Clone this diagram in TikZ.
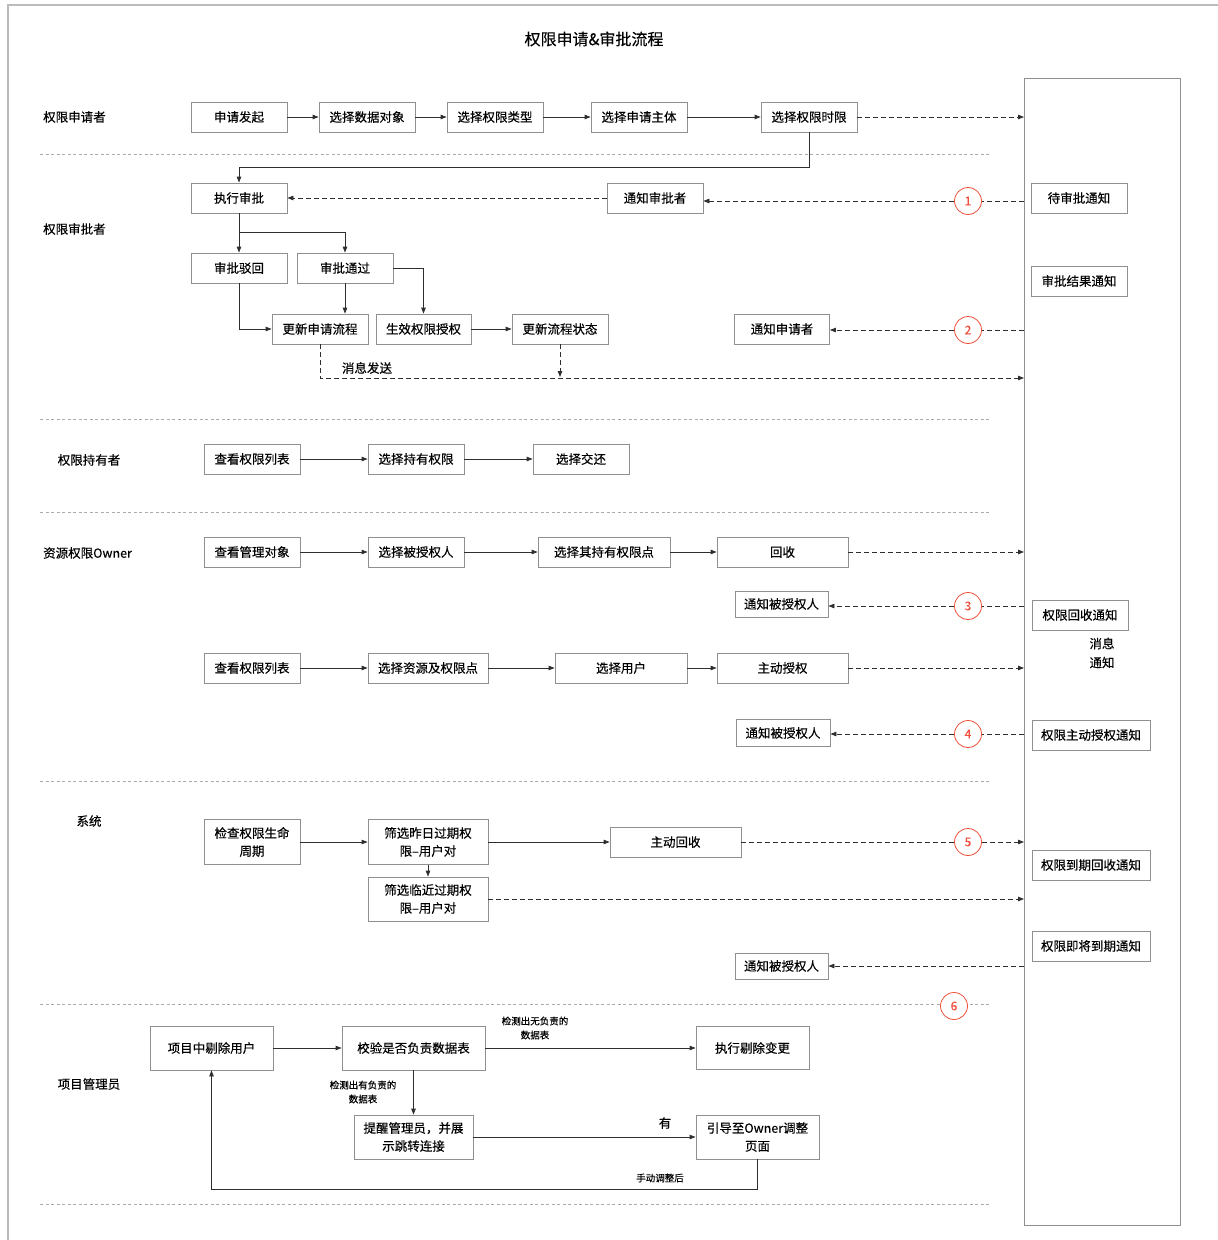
\documentclass[tikz,border=0pt]{standalone}
\usepackage{fontspec}
\setmainfont{Noto Sans CJK SC}[FakeBold=0.3]
\usetikzlibrary{arrows.meta,calc}
\definecolor{boxgray}{HTML}{8F8F8F}
\definecolor{linec}{HTML}{2E2E2E}
\definecolor{sepgray}{HTML}{ABABAB}
\definecolor{circred}{HTML}{F0503C}
\begin{document}
\begin{tikzpicture}[x=1pt,y=-1pt,
  box/.style={draw=boxgray,line width=0.8pt,fill=white,minimum width=96pt,minimum height=30pt,inner sep=1pt,align=center,font=\fontsize{12.5}{18}\selectfont},
  lane/.style={font=\fontsize{12.5}{15}\selectfont,inner sep=0pt},
  small/.style={font=\fontsize{9.5}{14}\selectfont,align=center,inner sep=0pt},
  arr/.style={draw=linec,line width=0.8pt,-{Triangle[length=6pt,width=4.5pt]}},
  ln/.style={draw=linec,line width=0.8pt},
  darr/.style={draw=linec,line width=0.8pt,dash pattern=on 5pt off 3pt,-{Triangle[length=6pt,width=4.5pt]}},
  dln/.style={draw=linec,line width=0.8pt,dash pattern=on 5pt off 3pt},
  sep/.style={draw=sepgray,line width=0.6pt,dash pattern=on 3pt off 2.5pt},
  circ/.style={circle,draw=circred,line width=0.8pt,fill=white,minimum size=27pt,inner sep=0pt,text=circred,font=\fontsize{12}{12}\selectfont}
]
\useasboundingbox (0,0) rectangle (1218,1240);
% outer frame
\draw[draw=sepgray!80,line width=1.2pt] (8,1240) -- (8,5) -- (1218,5);
% title
\node[font=\fontsize{16}{19}\selectfont] (title) at (594,39) {权限申请\&审批流程};
% right panel
\node[draw=boxgray,line width=0.8pt,minimum width=156pt,minimum height=1147pt,inner sep=0pt,anchor=north west] (panel) at (1024,78) {};
% separators
\foreach \yy in {154,419,512,781,1004,1204} \draw[sep] (40,\yy) -- (990,\yy);
% lane labels
\node[lane,anchor=west] (l1) at (43,117) {权限申请者};
\node[lane,anchor=west] (l2) at (43,229) {权限审批者};
\node[lane] (l3) at (89,460) {权限持有者};
\node[lane,anchor=west] (l4) at (43,553) {资源权限Owner};
\node[lane] (l5) at (89,821) {系统};
\node[lane] (l6) at (89,1084) {项目管理员};

% ---- row 1 applicant
\node[box] (a1) at (239,117) {申请发起};
\node[box] (a2) at (367,117) {选择数据对象};
\node[box] (a3) at (495,117) {选择权限类型};
\node[box] (a4) at (639,117) {选择申请主体};
\node[box] (a5) at (809,117) {选择权限时限};
\draw[arr] (a1) -- (a2);
\draw[arr] (a2) -- (a3);
\draw[arr] (a3) -- (a4);
\draw[arr] (a4) -- (a5);
\draw[darr] (a5.east) -- (a5.east -| panel.west);

% ---- approver
\node[box] (zxsp) at (239,198) {执行审批};
\node[box] (tzsp) at (655,198) {通知审批者};
\node[circ] (c1) at (968,201) {1};
\node[box] (dsp) at (1079,198) {待审批通知};
\node[box] (spjg) at (1079,281) {审批结果通知};
\coordinate (r1) at (809,167);
\draw[arr] (a5.south) -- (r1) -| (zxsp.north);
\draw[dln] (c1 -| panel.west) -- (c1.east);
\draw[darr] (c1.west) -- (tzsp.east |- c1);
\draw[darr] (tzsp.west) -- (zxsp.east);

\node[box] (bh) at (239,268) {审批驳回};
\node[box] (tg) at (345,268) {审批通过};
\node[box] (gxsq) at (320,329) {更新申请流程};
\node[box,minimum width=95pt] (sx) at (423.5,329) {生效权限授权};
\node[box] (gxzt) at (560,329) {更新流程状态};
\node[box,minimum width=95pt] (tzsq) at (782,329) {通知申请者};
\node[circ] (c2) at (968,330) {2};
\coordinate (br) at (239,232);
\draw[arr] (zxsp.south) -- (bh.north);
\draw[arr] (br) -| (tg.north);
\draw[arr] (bh.south) |- (gxsq.west);
\draw[arr] (tg.south) -- (tg.south |- gxsq.north);
\draw[arr] (tg.east) -| (sx.north);
\draw[arr] (sx) -- (gxzt);
\draw[dln] (c2 -| panel.west) -- (c2.east);
\draw[darr] (c2.west) -- (tzsq.east |- c2);
\coordinate (m1) at (320,378);
\draw[darr] (gxsq.south) -- (m1) -- (m1 -| panel.west);
\draw[darr] (gxzt.south) -- ($(gxzt.south |- m1)+(0,-1)$);
\node[lane] (msg1) at (367,368) {消息发送};

% ---- holder
\node[box] (h1) at (252,459) {查看权限列表};
\node[box] (h2) at (416,459) {选择持有权限};
\node[box] (h3) at (581,459) {选择交还};
\draw[arr] (h1) -- (h2);
\draw[arr] (h2) -- (h3);

% ---- owner
\node[box] (o1) at (252,552) {查看管理对象};
\node[box] (o2) at (416,552) {选择被授权人};
\node[box,minimum width=132pt] (o3) at (604,552) {选择其持有权限点};
\node[box,minimum width=131pt] (o4) at (782.5,552) {回收};
\node[box,minimum width=93pt,minimum height=26pt] (o5) at (781.5,604) {通知被授权人};
\node[circ] (c3) at (968,606) {3};
\node[box] (o6) at (1080,615) {权限回收通知};
\node[lane,align=center,font=\fontsize{12.5}{19}\selectfont] (msg2) at (1102,653) {消息\\通知};
\draw[arr] (o1) -- (o2);
\draw[arr] (o2) -- (o3);
\draw[arr] (o3) -- (o4);
\draw[darr] (o4.east) -- (o4.east -| panel.west);
\draw[dln] (c3 -| panel.west) -- (c3.east);
\draw[darr] (c3.west) -- (o5.east |- c3);

\node[box] (o7) at (252,668) {查看权限列表};
\node[box,minimum width=120pt] (o8) at (428,668) {选择资源及权限点};
\node[box,minimum width=132pt] (o9) at (621,668) {选择用户};
\node[box,minimum width=131pt] (o10) at (782.5,668) {主动授权};
\node[box,minimum width=94pt,minimum height=27pt] (o11) at (783,733) {通知被授权人};
\node[circ] (c4) at (968,734) {4};
\node[box,minimum width=118pt] (o12) at (1091,735) {权限主动授权通知};
\draw[arr] (o7) -- (o8);
\draw[arr] (o8) -- (o9);
\draw[arr] (o9) -- (o10);
\draw[darr] (o10.east) -- (o10.east -| panel.west);
\draw[dln] (c4 -| panel.west) -- (c4.east);
\draw[darr] (c4.west) -- (o11.east |- c4);

% ---- system
\node[box,minimum height=45pt] (s1) at (252,842) {检查权限生命\\周期};
\node[box,minimum width=120pt,minimum height=45pt] (s2) at (428,842) {筛选昨日过期权\\限–用户对};
\node[box,minimum width=120pt,minimum height=44pt] (s3) at (428,899) {筛选临近过期权\\限–用户对};
\node[box,minimum width=131pt] (s4) at (675.5,842) {主动回收};
\node[circ] (c5) at (968,842) {5};
\node[box,minimum width=118pt] (s5) at (1091,865) {权限到期回收通知};
\node[box,minimum width=118pt] (s6) at (1091,946) {权限即将到期通知};
\node[box,minimum width=93pt,minimum height=26pt] (s7) at (781.5,966) {通知被授权人};
\draw[arr] (s1) -- (s2);
\draw[arr] (s2) -- (s3);
\draw[arr] (s2) -- (s4);
\draw[dln] (s4.east) -- (c5.west);
\draw[darr] (c5.east) -- (c5 -| panel.west);
\draw[darr] (s3.east) -- (s3.east -| panel.west);
\draw[darr] (s7.east -| panel.west) -- (s7.east);

\node[circ] (c6) at (954,1006) {6};

% ---- project manager
\node[box,minimum width=123pt,minimum height=44pt] (p1) at (211.5,1048) {项目中剔除用户};
\node[box,minimum width=143pt,minimum height=44pt] (p2) at (413.5,1048) {校验是否负责数据表};
\node[box,minimum width=113pt,minimum height=43pt] (p3) at (752.5,1048) {执行剔除变更};
\node[box,minimum width=119pt,minimum height=44pt] (p4) at (413.5,1137) {提醒管理员，并展\\示跳转连接};
\node[box,minimum width=123pt,minimum height=44pt] (p5) at (757.5,1137) {引导至Owner调整\\页面};
\draw[arr] (p1) -- (p2);
\draw[arr] (p2) -- (p3);
\draw[arr] (p2) -- (p4);
\draw[arr] (p4) -- (p5);
\coordinate (r2) at (757.5,1189);
\draw[arr] (p5.south) -- (r2) -| (p1.south);
\node[small] (t1) at (535,1028) {检测出无负责的\\数据表};
\node[small] (t2) at (363,1092) {检测出有负责的\\数据表};
\node[lane] (t3) at (665,1123) {有};
\node[small] (t4) at (660,1178) {手动调整后};
\end{tikzpicture}
\end{document}
